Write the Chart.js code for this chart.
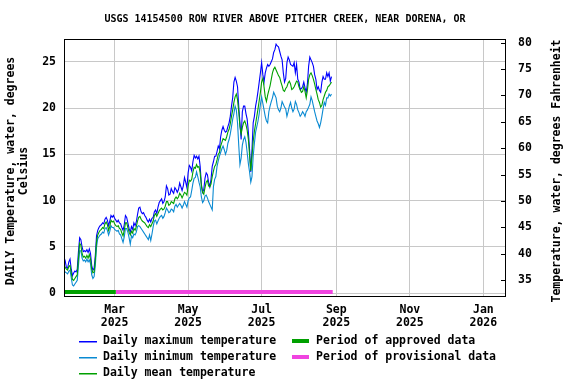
<!DOCTYPE html>
<html>
<head>
<meta charset="utf-8">
<title>USGS 14154500 water temperature</title>
<script src="https://cdn.jsdelivr.net/npm/chart.js@4.4.1/dist/chart.umd.min.js"></script>
<style>
  body { margin: 0; background: #ffffff; }
  #mycanvas { display: block; }
</style>
</head>
<body>
<canvas id="mycanvas" width="576" height="384"></canvas>
<script>
/* Day numbers count from Jan 1 2025 = 0 */
var startDay = 17;

/* Daily maximum temperature, deg C, from Jan 18 2025 */
var dailyMax = [
  3.9, 3.5, 2.8, 2.7, 3.4, 3.7, 2.6, 1.9, 2.2, 2.4, 2.3, 2.6, 4.5,
  6.0, 5.8, 5.0, 4.5, 4.6, 4.5, 4.7, 4.4, 4.8, 4.3,
  3.0, 2.5, 2.7, 4.1, 6.2, 6.8, 7.1, 7.3, 7.4, 7.6,
  7.5, 8.0, 8.2, 7.9, 7.3, 7.8, 8.4, 8.2, 8.4, 8.1,
  7.9, 7.7, 7.9, 7.6, 7.5, 7.1, 6.8, 7.4, 8.4, 8.2,
  7.6, 7.0, 6.6, 7.2, 6.9, 7.6, 7.3, 7.7, 8.5, 9.2,
  9.3, 8.8, 8.6, 8.7, 8.4, 8.2, 7.9, 7.7, 8.0, 7.7,
  8.1, 8.2, 8.8, 9.0, 8.6, 9.3, 9.8, 10.0, 10.2, 9.7,
  9.9, 10.4, 11.6, 11.3, 10.6, 10.7, 11.3, 11.0, 10.8, 11.4,
  11.2, 10.9, 11.2, 11.9, 11.5, 11.1, 11.6, 12.5, 12.0, 11.4,
  13.0, 13.8, 13.6, 13.2, 14.2, 14.9, 14.6, 14.8, 14.5, 14.8,
  13.7, 11.8, 10.9, 11.2, 12.4, 13.0, 12.8, 12.0, 11.5, 12.3,
  13.7, 14.2, 14.8, 14.8, 15.3, 15.9, 15.6, 16.9, 17.6, 18.0,
  17.6, 17.4, 17.5, 18.0, 18.4, 19.1, 20.2, 21.1, 22.8, 23.3,
  22.9, 22.3, 20.2, 18.4, 16.6, 19.6, 20.2, 20.2, 19.4, 18.8,
  17.4, 15.5, 13.1, 15.5, 18.4, 19.1, 20.2, 20.9, 21.8, 22.8,
  23.8, 24.9, 23.6, 22.8, 23.8, 24.3, 24.7, 24.5, 24.7, 25.0,
  25.3, 26.0, 26.3, 26.9, 26.7, 26.6, 26.1, 25.6, 25.2, 23.8,
  22.8, 23.2, 24.9, 25.5, 25.2, 24.7, 24.6, 24.5, 24.9, 23.8,
  24.7, 23.1, 22.8, 22.0, 22.1, 22.3, 22.8, 22.2, 21.7, 22.6,
  24.5, 25.5, 25.2, 24.9, 24.5, 23.6, 23.1, 22.0, 22.3, 21.9,
  21.7, 22.8, 23.4, 23.1, 23.1, 23.8, 23.4, 23.8, 22.9, 23.4
];

/* Daily minimum temperature, deg C */
var dailyMin = [
  2.4, 2.3, 2.2, 2.1, 2.4, 2.5, 1.7, 0.9, 0.8, 1.0, 1.2, 1.4, 3.0,
  4.6, 4.6, 3.8, 3.5, 3.6, 3.4, 3.7, 3.4, 3.6, 3.2,
  2.0, 1.6, 1.8, 3.0, 5.0, 5.9, 6.1, 6.3, 6.4, 6.6,
  6.5, 7.0, 7.1, 6.8, 6.3, 6.7, 7.3, 7.1, 7.1, 6.9,
  6.8, 6.7, 6.8, 6.4, 6.3, 5.9, 5.5, 6.1, 7.0, 7.0,
  6.6, 6.0, 5.3, 6.2, 6.0, 6.4, 6.3, 6.6, 7.2, 7.3,
  7.2, 7.0, 6.8, 6.6, 6.4, 6.2, 6.0, 5.8, 6.3, 5.7,
  6.4, 7.2, 7.8, 7.9, 7.5, 7.8, 8.1, 8.3, 8.4, 8.1,
  8.3, 8.7, 9.2, 9.0, 8.7, 8.8, 9.1, 9.0, 8.8, 9.4,
  9.6, 9.3, 9.5, 9.7, 9.5, 9.2, 9.5, 9.9, 9.6, 9.3,
  10.0, 10.3, 10.4, 11.1, 11.9, 12.4, 12.5, 13.1, 12.6, 12.0,
  11.5, 10.4, 9.8, 10.0, 10.5, 10.6, 10.3, 9.9, 9.6, 9.3,
  9.0, 11.5, 12.3, 12.6, 13.7, 14.3, 14.8, 15.2, 15.6, 15.9,
  15.5, 15.0, 15.4, 16.2, 16.6, 17.2, 18.0, 18.8, 19.4, 20.2,
  19.8, 18.4, 16.0, 13.9, 14.6, 16.0, 16.6, 16.9, 16.3, 15.2,
  14.0, 13.1, 12.0, 12.6, 14.8, 16.2, 17.4, 18.0, 18.6, 19.4,
  20.4, 21.2, 20.5, 19.8, 19.1, 18.6, 18.4, 19.6, 20.2, 20.7,
  21.1, 21.7, 21.4, 21.1, 20.2, 19.8, 19.6, 20.0, 20.7, 20.4,
  20.1, 19.9, 19.1, 19.6, 20.2, 20.6, 20.0, 19.6, 19.9, 20.7,
  20.4, 19.8, 19.5, 19.1, 19.3, 19.6, 19.4, 19.1, 19.6, 19.8,
  20.1, 20.4, 21.2, 20.8, 20.2, 19.6, 19.1, 18.6, 18.3, 17.9,
  18.4, 19.1, 19.9, 20.6, 20.3, 21.1, 21.1, 21.5, 21.3, 21.5
];

/* Daily mean temperature, deg C */
var dailyMean = [
  3.0, 2.8, 2.6, 2.5, 2.9, 3.0, 2.2, 1.5, 1.4, 1.6, 1.8, 2.0, 3.8,
  5.4, 5.2, 4.3, 3.9, 4.0, 3.8, 4.1, 3.8, 4.2, 3.7,
  2.6, 2.2, 2.3, 3.6, 5.6, 6.3, 6.6, 6.8, 6.9, 7.1,
  7.0, 7.5, 7.7, 7.4, 6.8, 7.2, 7.9, 7.7, 7.8, 7.5,
  7.3, 7.2, 7.3, 7.0, 6.9, 6.5, 6.2, 6.8, 7.6, 7.6,
  7.1, 6.6, 6.3, 6.7, 6.5, 7.0, 6.8, 7.2, 7.8, 8.2,
  8.3, 8.0, 7.8, 7.7, 7.6, 7.4, 7.2, 7.1, 7.4, 7.2,
  7.5, 7.8, 8.4, 8.6, 8.3, 8.6, 8.9, 9.1, 9.2, 9.0,
  9.1, 9.4, 9.9, 9.9, 9.5, 9.6, 9.9, 9.8, 9.7, 10.2,
  10.4, 10.2, 10.4, 10.8, 10.6, 10.3, 10.6, 10.9, 10.8, 10.6,
  11.6, 12.2, 12.1, 12.3, 13.1, 13.6, 13.5, 13.9, 13.6, 13.7,
  13.0, 11.6, 10.9, 10.7, 11.4, 12.0, 12.2, 11.6, 11.5, 11.8,
  12.6, 13.2, 13.7, 13.9, 14.4, 15.0, 15.2, 15.9, 16.3, 16.7,
  16.6, 16.5, 16.9, 17.4, 17.7, 18.3, 19.1, 19.8, 20.6, 21.2,
  21.5, 20.9, 19.6, 18.0, 17.2, 17.9, 18.4, 18.6, 18.2, 17.6,
  16.6, 14.9, 13.2, 14.8, 16.4, 17.5, 18.3, 19.1, 19.9, 20.8,
  21.7, 22.8, 23.2, 22.3, 21.2, 20.7, 21.4, 21.9, 22.4, 23.1,
  23.8, 24.2, 24.4, 24.1, 23.8, 23.5, 23.3, 22.8, 22.4, 21.9,
  21.8, 22.1, 22.3, 22.7, 22.9, 22.6, 22.0, 22.1, 22.3, 22.6,
  22.9, 22.8, 22.3, 22.0, 21.7, 21.8, 22.3, 21.8, 21.1, 21.9,
  23.1, 23.6, 23.8, 23.5, 23.1, 22.6, 22.0, 21.5, 20.9, 20.6,
  20.1, 20.3, 20.9, 21.3, 21.7, 21.9, 22.3, 22.4, 22.6, 22.8
];

/* Approval periods (day numbers) */
var approvedPeriod = [16.5, 60];
var provisionalPeriod = [60, 240];

/* Tick labels */
var tickDays = [59, 120, 181, 243, 304, 365];
var tickMonths = ['Mar', 'May', 'Jul', 'Sep', 'Nov', 'Jan'];
var tickYears = ['2025', '2025', '2025', '2025', '2025', '2026'];
var celsiusTicks = [0, 5, 10, 15, 20, 25];
var fahrenheitTicks = [35, 40, 45, 50, 55, 60, 65, 70, 75, 80];

var titleText = 'USGS 14154500 ROW RIVER ABOVE PITCHER CREEK, NEAR DORENA, OR';
var legendLeft = ['Daily maximum temperature', 'Daily minimum temperature', 'Daily mean temperature'];
var legendRight = ['Period of approved data', 'Period of provisional data'];

var colMax = '#0000ff';
var colMin = '#0a8ad2';
var colMean = '#00a000';
var colApproved = '#00a000';
var colProvisional = '#f044e0';
var labelFont = "bold 11.5px 'DejaVu Sans Mono'";

function toPoints(values) {
  var pts = [];
  for (var i = 0; i < values.length; i++) {
    pts.push({x: startDay + i, y: values[i]});
  }
  return pts;
}

function periodPoints(range) {
  return [{x: range[0], y: 0.15}, {x: range[1], y: 0.15}];
}

/* Title, axis titles, frame, right ticks and legend */
var decorations = {
  id: 'decorations',
  afterDraw: function(chart) {
    var ctx = chart.ctx;
    var ca = chart.chartArea;
    ctx.save();

    /* frame */
    ctx.strokeStyle = '#000000';
    ctx.lineWidth = 1;
    ctx.strokeRect(ca.left + 0.5, ca.top + 0.5, ca.right - ca.left - 1, ca.bottom - ca.top);

    /* right axis tick marks, inside the frame */
    var y2 = chart.scales.y2;
    ctx.beginPath();
    for (var i = 0; i < fahrenheitTicks.length; i++) {
      var py = Math.round(y2.getPixelForValue(fahrenheitTicks[i])) + 0.5;
      ctx.moveTo(ca.right - 5, py);
      ctx.lineTo(ca.right, py);
    }
    ctx.stroke();

    ctx.fillStyle = '#000000';
    ctx.textBaseline = 'middle';

    /* title */
    ctx.font = "bold 10px 'DejaVu Sans Mono'";
    ctx.textAlign = 'center';
    ctx.fillText(titleText, 285, 19);

    /* left axis title */
    ctx.font = labelFont;
    ctx.save();
    ctx.translate(11, 171);
    ctx.rotate(-Math.PI / 2);
    ctx.fillText('DAILY Temperature, water, degrees', 0, 0);
    ctx.fillText('Celsius', 0, 13.5);
    ctx.restore();

    /* right axis title */
    ctx.save();
    ctx.translate(557, 171);
    ctx.rotate(-Math.PI / 2);
    ctx.fillText('Temperature, water, degrees Fahrenheit', 0, 0);
    ctx.restore();

    /* legend */
    var rows = [341, 357, 373];
    var leftCols = [colMax, colMin, colMean];
    ctx.textAlign = 'left';
    for (var r = 0; r < legendLeft.length; r++) {
      ctx.fillStyle = leftCols[r];
      ctx.fillRect(79, rows[r], 18, 1.5);
      ctx.fillStyle = '#000000';
      ctx.fillText(legendLeft[r], 103, rows[r]);
    }
    var rightCols = [colApproved, colProvisional];
    for (var k = 0; k < legendRight.length; k++) {
      ctx.fillStyle = rightCols[k];
      ctx.fillRect(292, rows[k] - 2, 17, 4);
      ctx.fillStyle = '#000000';
      ctx.fillText(legendRight[k], 316, rows[k]);
    }
    ctx.restore();
  }
};

var chartdata = {
  datasets: [
    {
      label: 'Daily mean temperature',
      data: toPoints(dailyMean),
      borderColor: colMean,
      borderWidth: 1.1,
      pointRadius: 0,
      tension: 0
    },
    {
      label: 'Daily minimum temperature',
      data: toPoints(dailyMin),
      borderColor: colMin,
      borderWidth: 1.1,
      pointRadius: 0,
      tension: 0
    },
    {
      label: 'Daily maximum temperature',
      data: toPoints(dailyMax),
      borderColor: colMax,
      borderWidth: 1.1,
      pointRadius: 0,
      tension: 0
    },
    {
      label: 'Period of approved data',
      data: periodPoints(approvedPeriod),
      borderColor: colApproved,
      borderWidth: 4,
      borderCapStyle: 'butt',
      pointRadius: 0
    },
    {
      label: 'Period of provisional data',
      data: periodPoints(provisionalPeriod),
      borderColor: colProvisional,
      borderWidth: 4,
      borderCapStyle: 'butt',
      pointRadius: 0
    }
  ]
};

var tickFont = {family: 'DejaVu Sans Mono', size: 11.5, weight: 'bold', lineHeight: 1.1};

var ctx = document.getElementById('mycanvas');
var tempChart = new Chart(ctx, {
  type: 'line',
  data: chartdata,
  plugins: [decorations],
  options: {
    responsive: false,
    animation: false,
    devicePixelRatio: 1,
    layout: {padding: {top: 39, left: 0, right: 0, bottom: 0}},
    plugins: {
      legend: {display: false},
      title: {display: false},
      tooltip: {enabled: false}
    },
    scales: {
      x: {
        type: 'linear',
        position: 'bottom',
        min: 17,
        max: 383.8,
        afterBuildTicks: function(scale) {
          scale.ticks = tickDays.map(function(v) { return {value: v}; });
        },
        afterFit: function(scale) { scale.height = 88; },
        grid: {color: '#c8c8c8', lineWidth: 1, drawTicks: false},
        border: {display: false},
        ticks: {
          padding: 8,
          color: '#000000',
          font: tickFont,
          maxRotation: 0,
          autoSkip: false,
          callback: function(value, index) {
            return [tickMonths[index], tickYears[index]];
          }
        }
      },
      y: {
        type: 'linear',
        position: 'left',
        min: -0.29,
        max: 27.45,
        afterBuildTicks: function(scale) {
          scale.ticks = celsiusTicks.map(function(v) { return {value: v}; });
        },
        afterFit: function(scale) { scale.width = 64; },
        grid: {color: '#c8c8c8', lineWidth: 1, drawTicks: false},
        border: {display: false},
        ticks: {padding: 8, color: '#000000', font: tickFont}
      },
      y2: {
        type: 'linear',
        position: 'right',
        min: 31.97,
        max: 80.7,
        afterBuildTicks: function(scale) {
          scale.ticks = fahrenheitTicks.map(function(v) { return {value: v}; });
        },
        afterFit: function(scale) { scale.width = 70; },
        grid: {drawOnChartArea: false, drawTicks: false},
        border: {display: false},
        ticks: {padding: 12, color: '#000000', font: tickFont}
      }
    }
  }
});
</script>
</body>
</html>
